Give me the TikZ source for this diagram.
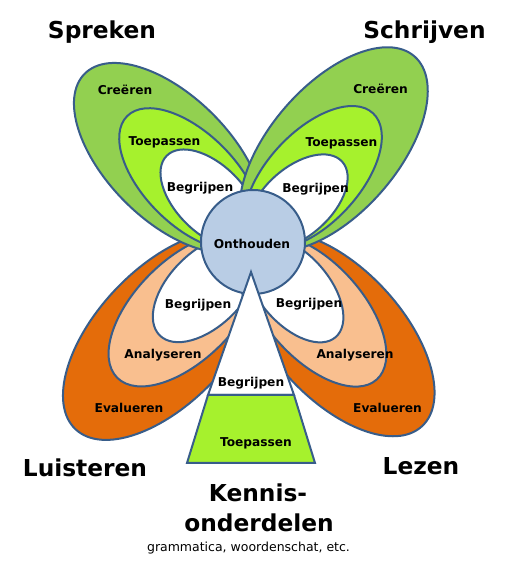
\documentclass[tikz,border=0pt]{standalone}
\usepackage{fontspec}
\setmainfont{DejaVu Sans}
\definecolor{edgeblue}{HTML}{385D8A}
\definecolor{leafgreen}{HTML}{92D050}
\definecolor{limegreen}{RGB}{166,241,45}
\definecolor{deeporange}{HTML}{E46C0A}
\definecolor{paleorange}{HTML}{F9BF8F}
\definecolor{coreblue}{HTML}{B9CDE5}
\tikzset{
    petal/.style={
        draw=edgeblue,
        line width=2pt,
    },
    level/.style={
        font=\fontsize{12.2pt}{14pt}\selectfont\bfseries,
        inner sep=0pt,
        anchor=base,
    },
    skill/.style={
        font=\fontsize{23.3pt}{28pt}\selectfont\bfseries,
        inner sep=0pt,
        anchor=base,
    },
}
\begin{document}
\begin{tikzpicture}[x=1pt, y=1pt]
\useasboundingbox (0,0) rectangle (529,577);
\coordinate (c) at (253,335);

% lower petals (Luisteren, Lezen)
\draw[petal, fill=deeporange, shift={(c)}, rotate=226.5] (129,0) ellipse (129 and 67);
\draw[petal, fill=paleorange, shift={(c)}, rotate=225] (96,0) ellipse (96 and 50);
\draw[petal, fill=white, shift={(c)}, rotate=225] (66,0) ellipse (66 and 37);
\draw[petal, fill=deeporange, shift={(c)}, rotate=312.5] (125,0) ellipse (125 and 65);
\draw[petal, fill=paleorange, shift={(c)}, rotate=312] (92.5,0) ellipse (92.5 and 48);
\draw[petal, fill=white, shift={(c)}, rotate=311] (63,0) ellipse (63 and 35);

% upper petals (Spreken, Schrijven)
\draw[petal, fill=leafgreen, shift={(c)}, rotate=135] (119,0) ellipse (119 and 62);
\draw[petal, fill=limegreen, shift={(c)}, rotate=135] (89,0) ellipse (89 and 46);
\draw[petal, fill=white, shift={(c)}, rotate=135] (61,0) ellipse (61 and 34);
\draw[petal, fill=leafgreen, shift={(c)}, rotate=49] (123,0) ellipse (123 and 64);
\draw[petal, fill=limegreen, shift={(c)}, rotate=47] (88,0) ellipse (88 and 46);
\draw[petal, fill=white, shift={(c)}, rotate=42] (60,0) ellipse (60 and 34);

% centre
\node[petal, circle, fill=coreblue, minimum size=104pt, inner sep=0pt] (core) at (c) {};
\node[level] (onthouden) at (252,328.7) {Onthouden};

% Kennis-onderdelen
\coordinate (apex) at (251,305);
\coordinate (tl) at (208,182);
\coordinate (tr) at (294,182);
\coordinate (bl) at (187,114);
\coordinate (br) at (315,114);
\draw[petal, fill=white] (apex) -- (tl) -- (tr) -- cycle;
\draw[petal, fill=limegreen] (tl) -- (bl) -- (br) -- (tr) -- cycle;

\node[level] (begrijpenK) at (251,190) {Begrijpen};
\node[level] (toepassenK) at (256,130.3) {Toepassen};

\node[level] (creerenS) at (125,482) {Creëren};
\node[level] (toepassenS) at (164.5,431) {Toepassen};
\node[level] (begrijpenS) at (200,385.3) {Begrijpen};
\node[level] (creerenW) at (380.5,483.7) {Creëren};
\node[level] (toepassenW) at (341.5,430.3) {Toepassen};
\node[level] (begrijpenW) at (315.5,384.7) {Begrijpen};
\node[level] (begrijpenL) at (198,268.7) {Begrijpen};
\node[level] (analyserenL) at (163,218.7) {Analyseren};
\node[level] (evaluerenL) at (129,164.3) {Evalueren};
\node[level] (begrijpenR) at (309,269.7) {Begrijpen};
\node[level] (analyserenR) at (355,218) {Analyseren};
\node[level] (evaluerenR) at (387.5,164.7) {Evalueren};

% skills
\node[skill] (spreken) at (102,538.7) {Spreken};
\node[skill] (schrijven) at (424.5,538.7) {Schrijven};
\node[skill] (luisteren) at (85,100.3) {Luisteren};
\node[skill] (lezen) at (421,102) {Lezen};
\node[skill] (kennis) at (258,75) {Kennis-};
\node[skill] (onderdelen) at (259,45) {onderdelen};
\node[font=\fontsize{12.5pt}{14pt}\selectfont, inner sep=0pt, anchor=base] (extra) at (248.5,25.3) {grammatica, woordenschat, etc.};
\end{tikzpicture}
\end{document}
